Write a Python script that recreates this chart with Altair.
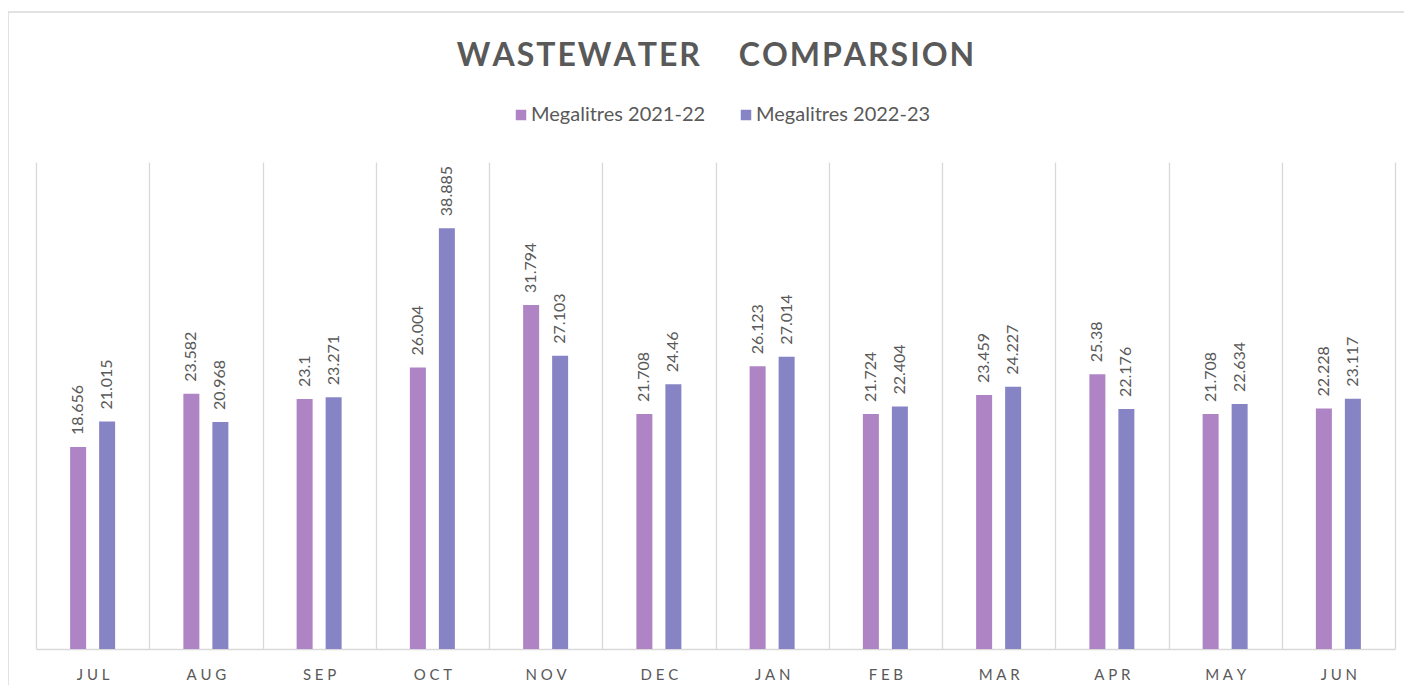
import altair as alt
import pandas as pd

months = ["JUL", "AUG", "SEP", "OCT", "NOV", "DEC", "JAN", "FEB", "MAR", "APR", "MAY", "JUN"]
series_names = ["Megalitres 2021-22", "Megalitres 2022-23"]
values_2021_22 = [18.656, 23.582, 23.1, 26.004, 31.794, 21.708, 26.123, 21.724, 23.459, 25.38, 21.708, 22.228]
values_2022_23 = [21.015, 20.968, 23.271, 38.885, 27.103, 24.46, 27.014, 22.404, 24.227, 22.176, 22.634, 23.117]
colors = ["#AE84C4", "#8784C6"]

rows = []
for i, m in enumerate(months):
    for s, vals in zip(series_names, [values_2021_22, values_2022_23]):
        rows.append({"month": m, "series": s, "value": vals[i], "label": str(vals[i])})
df = pd.DataFrame(rows)

W, H = 1359, 487
FONT = "Lato"
GRAY = "#595959"
LINE = "#D9D9D9"

title_text = "\u200a".join("WASTEWATER") + "\u00a0" * 5 + "\u200a".join("COMPARSION")

x_enc = alt.X(
    "month:N", sort=months,
    scale=alt.Scale(paddingInner=0, paddingOuter=0),
    axis=alt.Axis(
        title=None, grid=True, tickBand="extent", gridColor=LINE, gridWidth=1.3,
        domainColor=LINE, domainWidth=1.3, ticks=False, labelPadding=18,
        labelFontSize=15, labelColor=GRAY, labelFont=FONT, labelAngle=0,
        labelExpr="join(split(datum.label, ''), '\u2009\u2009')",
    ),
)
xoff = alt.XOffset("series:N", sort=series_names,
                   scale=alt.Scale(paddingInner=0.095, paddingOuter=1))
y_enc = alt.Y("value:Q", scale=alt.Scale(domain=[0, 45]), axis=None)

base = alt.Chart(df).encode(x=x_enc, xOffset=xoff, y=y_enc)

bars = base.mark_bar(width=16).encode(
    color=alt.Color(
        "series:N", sort=series_names,
        scale=alt.Scale(domain=series_names, range=colors),
        legend=alt.Legend(
            orient="none", legendX=475, legendY=-57, direction="horizontal",
            title=None, symbolType="square", symbolSize=110, symbolStrokeWidth=0,
            labelFontSize=20, labelColor=GRAY, labelFont=FONT, columnPadding=30,
            labelOffset=0, labelLimit=400,
        ),
    )
)

labels = base.mark_text(
    angle=270, align="left", baseline="middle", dx=12,
    fontSize=16, color=GRAY, font=FONT,
).encode(text="label:N")

frame = alt.Chart(alt.Data(values=[{}])).mark_rect(
    fill=None, stroke=LINE, strokeWidth=1.5
).encode(
    x=alt.value(-28), x2=alt.value(W + 60),
    y=alt.value(-150), y2=alt.value(H + 80),
)

chart = alt.layer(frame, bars, labels).properties(
    width=W, height=H,
    title=alt.TitleParams(
        title_text, fontSize=32, font=FONT,
        fontWeight="bold", color=GRAY, anchor="middle", frame="group", offset=-62,
    ),
    autosize=alt.AutoSizeParams(type="none"),
    padding={"left": 28, "top": 154, "right": 9, "bottom": 36},
).configure_view(stroke=None)

chart.save("out.html", embed_options={"renderer": "svg", "actions": False})
